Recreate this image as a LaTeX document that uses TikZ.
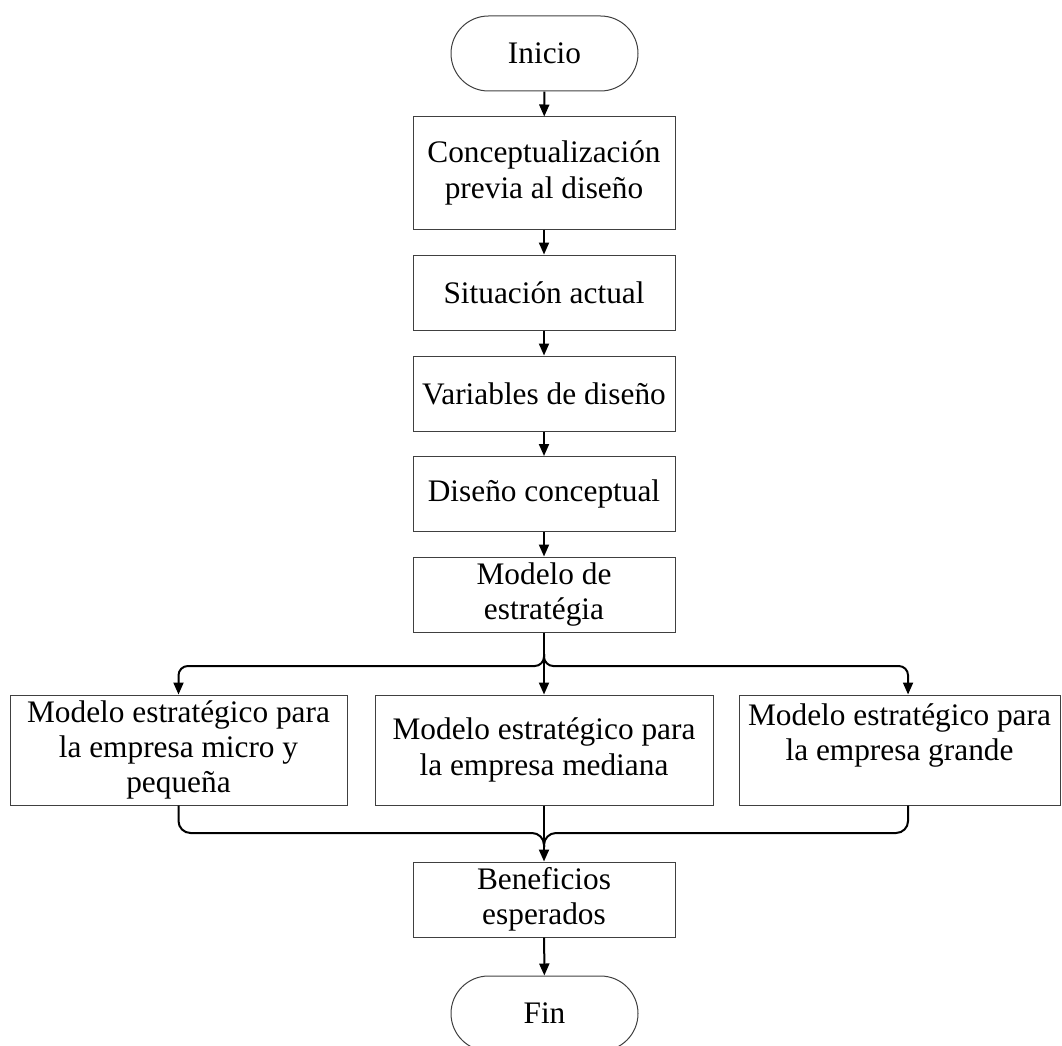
\documentclass[tikz,border=0pt]{standalone}
\usepackage{fontspec}
\setmainfont{Liberation Serif}
\usetikzlibrary{shapes.misc,arrows.meta,calc}

\begin{document}
\begin{tikzpicture}[
    x=0.75pt, y=-0.75pt,
    every node/.style={font=\fontsize{23.5}{26.5}\selectfont, align=center, inner sep=0pt},
    procbox/.style={draw=black!75, line width=0.75pt, rectangle, minimum width=196.5pt},
    termbox/.style={draw=black!75, line width=0.75pt, rounded rectangle,
                    minimum width=140.25pt, minimum height=56.25pt},
    modelbox/.style={draw=black!75, line width=0.75pt, rectangle, minimum height=82.5pt},
    conn/.style={draw=black, line width=1.5pt},
    arr/.style={conn, -{Triangle[length=9pt,width=7.5pt]}}
  ]
  % page frame
  \useasboundingbox (0,0) rectangle (1062,1045);
  \clip (0,0) rectangle (1062,1045);

  % main column
  \node[termbox] (ini) at (544.5,53.5) {Inicio};
  \node[procbox, minimum height=84pt] (c1) at (544,173) {Conceptualización\\previa al diseño};
  \node[procbox, minimum height=56.25pt] (c2) at (544,292.5) {Situación actual};
  \node[procbox, minimum height=56.25pt] (c3) at (544,393.5) {Variables de diseño};
  \node[procbox, minimum height=56.25pt] (c4) at (544,494) {Diseño conceptual};
  \node[procbox, minimum height=56.25pt] (c5) at (544,594.5) {Modelo de\\estratégia};

  % three strategic models
  \node[modelbox, minimum width=252.75pt] (m1) at (178.5,750)
    {Modelo estratégico para\\la empresa micro y\\pequeña};
  \node[modelbox, minimum width=253.5pt] (m2) at (544,750)
    {Modelo estratégico para\\la empresa mediana};
  \node[modelbox, minimum width=240.75pt] (m3) at (899.5,750)
    {Modelo estratégico para\\la empresa grande\\\mbox{}};

  \node[procbox, minimum height=56.25pt] (ben) at (544,899.5) {Beneficios\\esperados};
  \node[termbox] (fin) at (544.5,1013.5) {Fin};

  % junction points of the split and merge
  \coordinate (jt) at (544,666);
  \coordinate (jb) at (544,833);

  % straight flow
  \draw[arr] (ini) -- (c1);
  \draw[arr] (c1) -- (c2);
  \draw[arr] (c2) -- (c3);
  \draw[arr] (c3) -- (c4);
  \draw[arr] (c4) -- (c5);
  \draw[arr] (c5.south) -- (m2.north);

  % split into the three models
  \draw[arr, rounded corners=7pt] ($(jt)+(0,-12)$) -- (jt) -- (m1.north |- jt) -- (m1.north);
  \draw[arr, rounded corners=7pt] ($(jt)+(0,-12)$) -- (jt)
     -- ([xshift=6.4pt]m3.north |- jt) -- ([xshift=6.4pt]m3.north);

  % merge back
  \draw[conn, rounded corners=9pt] (m1.south) -- (m1.south |- jb) -- (jb) -- ($(jb)+(0,14)$);
  \draw[conn, rounded corners=9pt] ([xshift=6.4pt]m3.south) -- ([xshift=6.4pt]m3.south |- jb)
     -- (jb) -- ($(jb)+(0,14)$);
  \draw[arr] (m2.south) -- (ben.north);
  \draw[arr] (ben) -- (fin);
\end{tikzpicture}
\end{document}
